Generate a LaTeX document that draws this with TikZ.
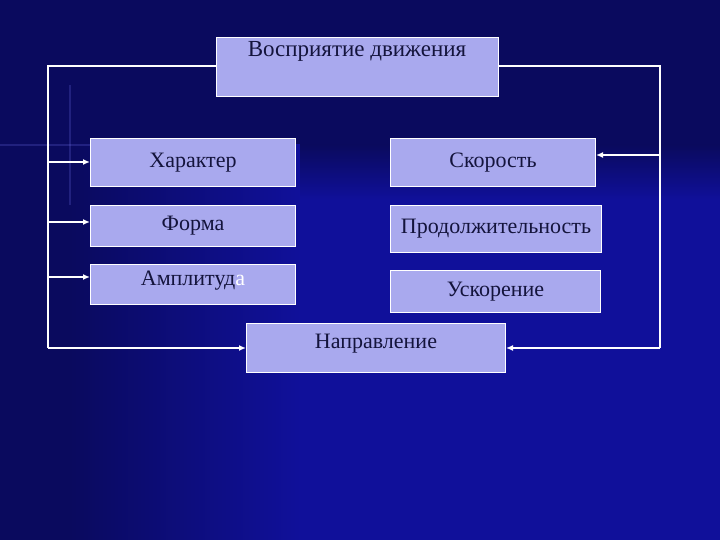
\documentclass[tikz,border=0pt]{standalone}
\usepackage{fontspec}
\usetikzlibrary{arrows.meta}
\setmainfont{Liberation Serif}
\definecolor{bgdark}{HTML}{0A0A5E}
\definecolor{bglight}{HTML}{10109A}
\definecolor{boxfill}{HTML}{A9A9EE}
\definecolor{txt}{HTML}{14143C}
\begin{document}
\begin{tikzpicture}[x=1pt,y=-1pt,
  box/.style={draw=white,line width=1pt,fill=boxfill,text=txt,font=\fontsize{22}{24}\selectfont},
  ln/.style={draw=white,line width=1.5pt},
  ar/.style={ln,-{Latex[length=7pt,width=6pt]}}]
\fill[bgdark] (0,0) rectangle (720,540);
\shade[left color=bgdark,right color=bglight] (70,145) rectangle (300,540);
\fill[bglight] (300,145) rectangle (720,540);
\shade[top color=bgdark,bottom color=bglight] (300,145) rectangle (720,200);
\fill[blue!50!white,opacity=0.2] (0,144.5) rectangle (95,146.5);
\fill[blue!50!white,opacity=0.2] (69,85) rectangle (71,205);
\useasboundingbox (0,0) rectangle (720,540);
\node[box,minimum width=282,minimum height=59,anchor=north west,inner sep=0] (t) at (216,37) {};
\node[txt,font=\fontsize{23}{24}\selectfont,anchor=north] (tt) at (357,38) {Восприятие движения};
\node[box,minimum width=205,minimum height=48,anchor=north west] (h) at (90,138) {Характер};
\node[box,minimum width=205,minimum height=48,anchor=north west] (s) at (390,138) {Скорость};
\node[box,minimum width=205,minimum height=41,anchor=north west] (f) at (90,205) {Форма};
\node[box,minimum width=211,minimum height=47,anchor=north west,inner sep=1pt] (p) at (390,205) {Продолжительность};
\node[box,minimum width=205,minimum height=40,anchor=north west,text depth=12pt] (a) at (90,264) {Амплитуд\textcolor{white}{а}};
\node[box,minimum width=210,minimum height=42,anchor=north west] (u) at (390,270) {Ускорение};
\node[box,minimum width=259,minimum height=49,anchor=north west,text depth=14pt] (n) at (246,323) {Направление};
\coordinate (lt) at (48,66);
\coordinate (lb) at (48,348);
\coordinate (rt) at (660,66);
\coordinate (rb) at (660,348);
\draw[ln] (t.west |- lt) -- (lt) -- (lb);
\draw[ln] (t.east |- rt) -- (rt) -- (rb);
\draw[ar] (48,162) -- (h.west |- 0,162);
\draw[ar] (48,222) -- (f.west |- 0,222);
\draw[ar] (48,277) -- (a.west |- 0,277);
\draw[ar] (lb) -- (n.west |- lb);
\draw[ar] (660,155) -- (s.east |- 0,155);
\draw[ar] (rb) -- (n.east |- rb);
\end{tikzpicture}
\end{document}
